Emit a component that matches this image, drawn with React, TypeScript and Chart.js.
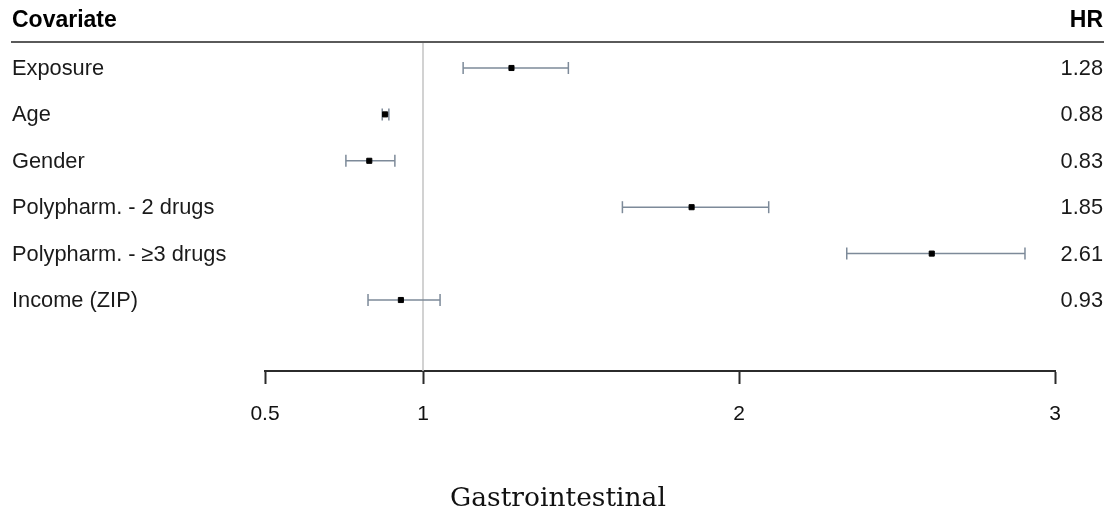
import React, { useEffect, useRef } from "react";
import { Chart, registerables } from "chart.js";

Chart.register(...registerables);

// Hazard ratios with 95% confidence limits, one row per covariate
const covariates = [
  "Exposure",
  "Age",
  "Gender",
  "Polypharm. - 2 drugs",
  "Polypharm. - ≥3 drugs",
  "Income (ZIP)",
];
const hazardRatios = [1.28, 0.88, 0.83, 1.85, 2.61, 0.93];
const lowerCI = [1.127, 0.871, 0.756, 1.631, 2.341, 0.826];
const upperCI = [1.46, 0.892, 0.911, 2.094, 2.905, 1.054];
const hrLabels = ["1.28", "0.88", "0.83", "1.85", "2.61", "0.93"];
const xTicks = [0.5, 1, 2, 3];
const panelTitle = "Gastrointestinal";

const SANS = "'Liberation Sans', Arial, sans-serif";
const WHISKER = "#7d8a99";

const tablePlugin = {
  id: "forestTable",
  afterDraw(chart: any) {
    const { ctx, chartArea, scales } = chart;
    const y = scales.y;
    ctx.save();
    // header rule
    ctx.strokeStyle = "#5a5a5a";
    ctx.lineWidth = 2;
    ctx.beginPath();
    ctx.moveTo(11, chartArea.top);
    ctx.lineTo(1104, chartArea.top);
    ctx.stroke();

    // header text
    ctx.fillStyle = "#000";
    ctx.font = `bold 23px ${SANS}`;
    ctx.textBaseline = "middle";
    ctx.textAlign = "left";
    ctx.fillText("Covariate", 12, chartArea.top - 21);
    ctx.textAlign = "right";
    ctx.fillText("HR", 1103, chartArea.top - 21);

    // row labels and HR values
    ctx.font = `21.8px ${SANS}`;
    ctx.fillStyle = "#1a1a1a";
    covariates.forEach((name, i) => {
      const py = y.getPixelForValue(i);
      ctx.textAlign = "left";
      ctx.fillText(name, 12, py + 1);
      ctx.textAlign = "right";
      ctx.fillText(hrLabels[i], 1103, py + 1);
    });

    // panel title
    ctx.font = `26.5px 'DejaVu Serif', 'Liberation Serif', serif`;
    ctx.fillStyle = "#111";
    ctx.textAlign = "center";
    ctx.fillText(panelTitle, 558, chartArea.bottom + 128);
    ctx.restore();
  },
};

export default function App() {
  const canvasRef = useRef<HTMLCanvasElement | null>(null);

  useEffect(() => {
    if (!canvasRef.current) return;

    const whiskerSets = covariates.map((_, i) => ({
      type: "line" as const,
      data: [
        { x: lowerCI[i], y: i },
        { x: upperCI[i], y: i },
      ],
      borderColor: WHISKER,
      borderWidth: 1.5,
      pointStyle: "line" as const,
      rotation: 90,
      pointRadius: 6,
      pointBorderColor: WHISKER,
      pointBorderWidth: 1.5,
      pointHoverRadius: 6,
      order: 2,
    }));

    const chart = new Chart(canvasRef.current, {
      type: "scatter",
      data: {
        datasets: [
          {
            type: "line",
            data: [
              { x: 1, y: -0.56 },
              { x: 1, y: 6.53 },
            ],
            borderColor: "#c4c4c4",
            borderWidth: 1.5,
            pointRadius: 0,
            order: 3,
          },
          ...whiskerSets,
          {
            type: "scatter",
            data: hazardRatios.map((v, i) => ({ x: v, y: i })),
            pointStyle: "rect",
            pointRadius: 3.6,
            pointBackgroundColor: "#000",
            pointBorderColor: "#000",
            pointBorderWidth: 1,
            order: 1,
          },
        ] as any,
      },
      options: {
        animation: false,
        responsive: true,
        maintainAspectRatio: false,
        layout: { padding: { left: 265, right: 56, top: 42, bottom: 88 } },
        plugins: {
          legend: { display: false },
          tooltip: { enabled: false },
          title: { display: false },
        },
        scales: {
          x: {
            type: "linear",
            min: 0.5,
            max: 3,
            afterBuildTicks: (scale: any) => {
              scale.ticks = xTicks.map((v) => ({ value: v }));
            },
            afterFit: (scale: any) => {
              scale.height = 60;
            },
            border: { display: true, color: "#2b2b2b", width: 2 },
            grid: {
              drawOnChartArea: false,
              drawTicks: true,
              tickLength: 13,
              tickColor: "#2b2b2b",
              tickWidth: 2,
            },
            ticks: {
              color: "#111",
              font: { family: SANS, size: 21 },
              padding: 18,
              maxRotation: 0,
              callback: (v: any) => String(v),
            },
          },
          y: {
            type: "linear",
            min: -0.56,
            max: 6.53,
            reverse: true,
            display: false,
          },
        },
      } as any,
      plugins: [tablePlugin],
    });

    return () => chart.destroy();
  }, []);

  return (
    <div
      style={{
        position: "fixed",
        left: 0,
        top: 0,
        width: 1111,
        height: 519,
        background: "#fff",
      }}
    >
      <canvas ref={canvasRef} />
    </div>
  );
}
